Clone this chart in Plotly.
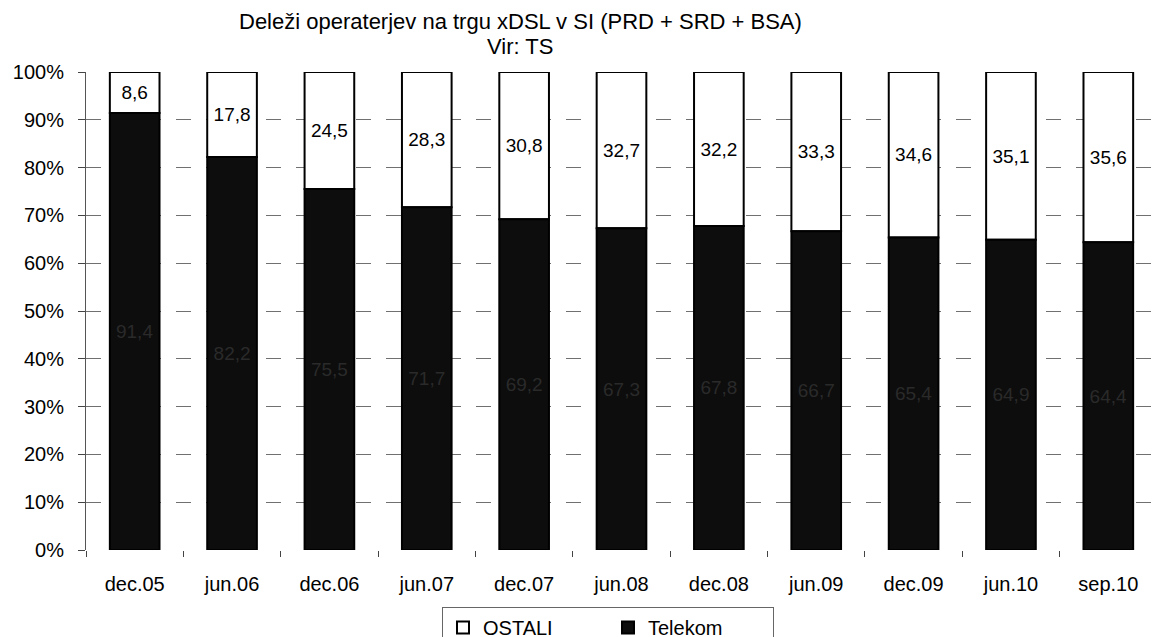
import plotly.graph_objects as go

categories = ["dec.05", "jun.06", "dec.06", "jun.07", "dec.07", "jun.08",
              "dec.08", "jun.09", "dec.09", "jun.10", "sep.10"]
telekom = [91.4, 82.2, 75.5, 71.7, 69.2, 67.3, 67.8, 66.7, 65.4, 64.9, 64.4]
ostali = [8.6, 17.8, 24.5, 28.3, 30.8, 32.7, 32.2, 33.3, 34.6, 35.1, 35.6]
y_ticks = [0, 10, 20, 30, 40, 50, 60, 70, 80, 90, 100]
title_lines = ["Deleži operaterjev na trgu xDSL v SI (PRD + SRD + BSA)", "Vir: TS"]

def fmt(v):
    return f"{v:.1f}".replace(".", ",")

font_family = "Liberation Sans, Arial, sans-serif"

# figure-pixel layout (page is rendered with an 8px body offset)
W, H = 1161, 637
ML, MR, MT, MB = 78, 12, 64, 95
plot_h = H - MT - MB
plot_w = W - ML - MR

def py(fig_y):
    return (H - MB - fig_y) / plot_h

def px(fig_x):
    return (fig_x - ML) / plot_w

fig = go.Figure()
fig.add_trace(go.Bar(
    x=categories, y=ostali, base=telekom, name="OSTALI",
    marker=dict(color="#ffffff", line=dict(color="#000000", width=2)),
    text=[fmt(v) for v in ostali], textposition="inside",
    insidetextanchor="middle",
    textfont=dict(color="#000000", size=20, family=font_family),
    width=0.51,
))
fig.add_trace(go.Bar(
    x=categories, y=telekom, name="Telekom",
    marker=dict(color="#0d0d0d", line=dict(color="#000000", width=2)),
    text=[fmt(v) for v in telekom], textposition="inside",
    insidetextanchor="middle",
    textfont=dict(color="#2a2a2a", size=19, family=font_family),
    width=0.51,
))

for line, fy in zip(title_lines, [13, 39]):
    fig.add_annotation(
        text=line, xref="paper", yref="paper",
        x=px(512), y=py(fy), xanchor="center", yanchor="middle",
        showarrow=False, borderpad=0,
        font=dict(size=22, family=font_family, color="#000000"),
    )

fig.update_layout(
    barmode="overlay",
    width=W, height=H,
    paper_bgcolor="#ffffff", plot_bgcolor="#ffffff",
    margin=dict(l=ML, r=MR, t=MT, b=MB, autoexpand=False),
    font=dict(family=font_family, size=20, color="#000000"),
    showlegend=True,
    legend=dict(
        orientation="h", x=px(600), xanchor="center",
        y=py(599), yanchor="top",
        traceorder="normal",
        bordercolor="#666666", borderwidth=1,
        font=dict(size=20, family=font_family),
        itemwidth=30,
        entrywidth=120, entrywidthmode="pixels",
    ),
    uniformtext=dict(minsize=10, mode="show"),
)
fig.update_xaxes(
    automargin=False,
    showgrid=False, showline=False,
    ticks="outside", tickson="boundaries", ticklen=6, tickcolor="#444444",
    ticklabelstandoff=20,
    tickfont=dict(size=20, family=font_family),
)
fig.update_yaxes(
    automargin=False,
    range=[0, 100], tickvals=y_ticks,
    ticktext=[f"{v}%" for v in y_ticks],
    showgrid=True, gridcolor="#707070", gridwidth=1, griddash="longdash",
    showline=True, linecolor="#555555", linewidth=1,
    ticks="outside", ticklen=7, tickcolor="#444444",
    ticklabelstandoff=10,
    tickfont=dict(size=20, family=font_family),
    zeroline=False,
)
fig.add_shape(type="line", xref="paper", yref="paper", x0=1, x1=1, y0=0, y1=1,
              line=dict(color="#777777", width=1, dash="longdash"))

fig.write_html("out.html")
